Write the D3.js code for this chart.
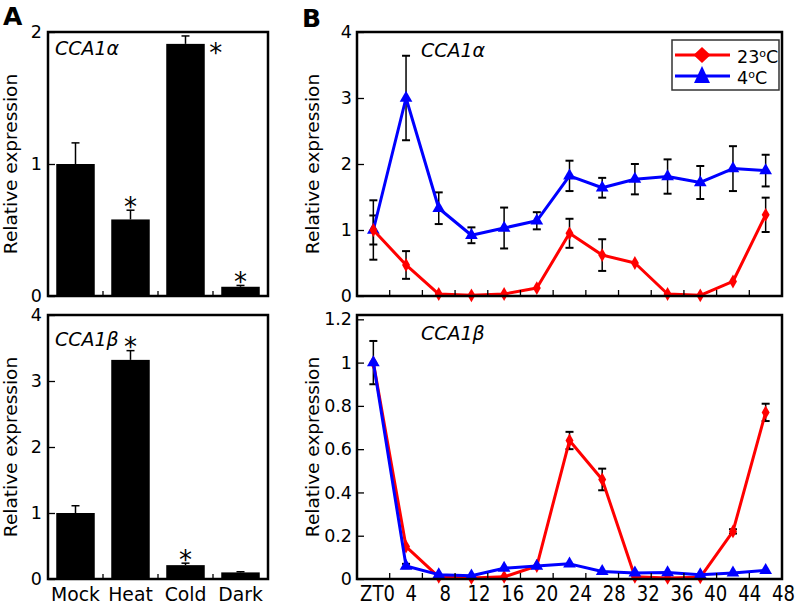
<!DOCTYPE html>
<html><head><meta charset="utf-8">
<script src="https://cdn.jsdelivr.net/npm/d3@7"></script>
<style>
body{margin:0;background:#fff}
text{font-family:"DejaVu Sans",Verdana,sans-serif;fill:#000}
</style>
</head><body>
<svg id="c" width="797" height="607"></svg>
<script>
// ---------- data ----------
const treatments = ["Mock", "Heat", "Cold", "Dark"];
const alphaTreat = [1.0, 0.58, 1.91, 0.07];
const alphaTreatErr = [0.16, 0.07, 0.06, 0.01];
const alphaTreatSig = [false, true, true, true];
const betaTreat = [1.0, 3.32, 0.21, 0.10];
const betaTreatErr = [0.11, 0.14, 0.03, 0.01];
const betaTreatSig = [false, true, true, false];
const alphaTreatTicks = [0, 1, 2];
const betaTreatTicks = [0, 1, 2, 3, 4];

const timeLabels = ["ZT0", "4", "8", "12", "16", "20", "24", "28", "32", "36", "40", "44", "48"];
const alpha23 = [1.0, 0.47, 0.03, 0.01, 0.03, 0.12, 0.95, 0.62, 0.50, 0.03, 0.01, 0.22, 1.23];
const alpha23Err = [0.22, 0.21, 0, 0, 0, 0, 0.22, 0.24, 0, 0, 0, 0, 0.26];
const alpha4 = [1.0, 3.0, 1.33, 0.92, 1.03, 1.14, 1.82, 1.64, 1.77, 1.81, 1.72, 1.93, 1.90];
const alpha4Err = [0.45, 0.64, 0.24, 0.12, 0.31, 0.13, 0.23, 0.15, 0.23, 0.26, 0.25, 0.34, 0.24];
const beta23 = [1.0, 0.15, 0.01, 0.005, 0.01, 0.06, 0.64, 0.46, 0.01, 0.005, 0.008, 0.22, 0.77];
const beta23Err = [0, 0, 0, 0, 0, 0, 0.04, 0.05, 0, 0, 0, 0.01, 0.04];
const beta4 = [1.0, 0.06, 0.02, 0.015, 0.05, 0.06, 0.07, 0.035, 0.028, 0.03, 0.02, 0.028, 0.04];
const beta4Err = [0.1, 0.01, 0, 0, 0, 0, 0, 0, 0, 0, 0, 0, 0];
const alphaTimeTicks = [0, 1, 2, 3, 4];
const betaTimeTicks = [0, 0.2, 0.4, 0.6, 0.8, 1, 1.2];
const alphaTimeMax = 4;
const betaTimeMax = 1.22;
const seriesNames = ["23", "4"];

// ---------- layout ----------
const svg = d3.select("#c");
const A = {x0: 48, x1: 268};
const B = {x0: 357, x1: 782};
const rowTop = {y0: 32, y1: 296};
const rowBot = {y0: 315, y1: 579};
const RED = "#ff0000", BLUE = "#0000ff";

function frame(px, row) {
  svg.append("rect").attr("x", px.x0).attr("y", row.y0)
    .attr("width", px.x1 - px.x0).attr("height", row.y1 - row.y0)
    .attr("fill", "none").attr("stroke", "#000").attr("stroke-width", 2.5);
}

function yAxis(y, px, ticks, pad) {
  const g = svg.append("g").attr("transform", `translate(${px.x0},0)`)
    .call(d3.axisLeft(y).tickValues(ticks).tickSize(-7).tickPadding(pad).tickFormat(d => String(d)));
  g.select(".domain").remove();
  g.selectAll(".tick line").attr("stroke", "#000").attr("stroke-width", 1.3);
  g.selectAll(".tick text").attr("font-size", 17.5).attr("font-family", "DejaVu Sans");
}

function yTitle(x, row) {
  svg.append("text").attr("transform", `translate(${x},${(row.y0 + row.y1) / 2}) rotate(-90)`)
    .attr("text-anchor", "middle").attr("font-size", 18.5).text("Relative expression");
}

function geneLabel(x, y, greek) {
  svg.append("text").attr("x", x).attr("y", y).attr("font-size", 19)
    .attr("font-style", "italic").text("CCA1" + greek);
}

// ---------- Panel A ----------
function barPanel(row, vals, errs, sig, max, ticks, showLabels) {
  const x = d3.scaleBand().domain(treatments).range([A.x0, A.x1]).paddingInner(0.3).paddingOuter(0.15);
  const y = d3.scaleLinear().domain([0, max]).range([row.y1, row.y0]);
  const data = treatments.map((t, i) => ({t, v: vals[i], e: errs[i], s: sig[i]}));
  svg.append("g").selectAll("rect").data(data).join("rect")
    .attr("x", d => x(d.t)).attr("width", x.bandwidth())
    .attr("y", d => y(d.v)).attr("height", d => y(0) - y(d.v)).attr("fill", "#000");
  const eb = svg.append("g").attr("stroke", "#000").attr("stroke-width", 1.5);
  data.forEach(d => {
    const cx = x(d.t) + x.bandwidth() / 2;
    eb.append("line").attr("x1", cx).attr("x2", cx).attr("y1", y(d.v)).attr("y2", y(d.v + d.e));
    eb.append("line").attr("x1", cx - 4).attr("x2", cx + 4).attr("y1", y(d.v + d.e)).attr("y2", y(d.v + d.e));
  });
  // boundary ticks
  const tk = svg.append("g").attr("stroke", "#000").attr("stroke-width", 1.3);
  for (let i = 1; i < treatments.length; i++) {
    const bx = (x(treatments[i - 1]) + x.bandwidth() + x(treatments[i])) / 2;
    tk.append("line").attr("x1", bx).attr("x2", bx).attr("y1", row.y1).attr("y2", row.y1 - 5);
  }
  // asterisks
  data.filter(d => d.s).forEach(d => {
    const cx = x(d.t) + x.bandwidth() / 2;
    let ax = cx, ay = y(d.v + d.e) - 9;
    if (ay < row.y0 + 14) { ax = x(d.t) + x.bandwidth() + 11; ay = y(d.v) + 4; }
    svg.append("text").attr("x", ax).attr("y", ay + 14.5).attr("text-anchor", "middle")
      .attr("font-size", 26).text("*");
  });
  frame(A, row);
  yAxis(y, A, ticks, 6);
  if (showLabels) {
    const g = svg.append("g").attr("transform", `translate(0,${row.y1})`)
      .call(d3.axisBottom(x).tickSize(0).tickPadding(0));
    g.select(".domain").remove();
    g.selectAll(".tick text").attr("y", 22).attr("dy", 0).attr("font-size", 20)
      .attr("transform", "scale(0.94,1)");
  }
}

barPanel(rowTop, alphaTreat, alphaTreatErr, alphaTreatSig, 2, alphaTreatTicks, false);
barPanel(rowBot, betaTreat, betaTreatErr, betaTreatSig, 4, betaTreatTicks, true);
yTitle(17, rowTop);
yTitle(17, rowBot);
geneLabel(55, 55, "α");
geneLabel(55, 346, "β");

// ---------- Panel B ----------
const xB = d3.scaleBand().domain(timeLabels).range([B.x0, B.x1]).padding(0);
const cxB = t => xB(t) + xB.bandwidth() / 2;

function linePanel(row, s23, e23, s4, e4, max, ticks, redOnTop, showLabels) {
  const y = d3.scaleLinear().domain([0, max]).range([row.y1, row.y0]);
  const series = [
    {name: "23", vals: s23, errs: e23, color: RED, sym: d3.symbolDiamond, size: 55},
    {name: "4", vals: s4, errs: e4, color: BLUE, sym: d3.symbolTriangle, size: 70}
  ];
  const order = redOnTop ? [series[1], series[0]] : [series[0], series[1]];
  // error bars
  const eb = svg.append("g").attr("stroke", "#000").attr("stroke-width", 1.5);
  series.forEach(s => {
    timeLabels.forEach((t, i) => {
      if (!s.errs[i]) return;
      const cx = cxB(t), hi = y(s.vals[i] + s.errs[i]), lo = y(Math.max(0, s.vals[i] - s.errs[i]));
      eb.append("line").attr("x1", cx).attr("x2", cx).attr("y1", lo).attr("y2", hi);
      eb.append("line").attr("x1", cx - 4).attr("x2", cx + 4).attr("y1", hi).attr("y2", hi).attr("stroke-width", 2);
      eb.append("line").attr("x1", cx - 4).attr("x2", cx + 4).attr("y1", lo).attr("y2", lo).attr("stroke-width", 2);
    });
  });
  const line = d3.line().x((d, i) => cxB(timeLabels[i])).y(d => y(d));
  order.forEach(s => {
    svg.append("path").datum(s.vals).attr("d", line).attr("fill", "none")
      .attr("stroke", s.color).attr("stroke-width", 3).attr("stroke-linejoin", "round");
    svg.append("g").selectAll("path").data(s.vals).join("path")
      .attr("transform", (d, i) => `translate(${cxB(timeLabels[i])},${y(d)})`)
      .attr("d", d3.symbol().type(s.sym).size(s.size)).attr("fill", s.color);
  });
  // boundary ticks
  const tk = svg.append("g").attr("stroke", "#000").attr("stroke-width", 1.3);
  for (let i = 1; i < timeLabels.length; i++) {
    const bx = xB(timeLabels[i]);
    tk.append("line").attr("x1", bx).attr("x2", bx).attr("y1", row.y1).attr("y2", row.y1 - 6);
  }
  frame(B, row);
  yAxis(y, B, ticks, 5);
  if (showLabels) {
    const xl = d3.scalePoint().domain(timeLabels).range([B.x0 + 20, B.x1 + 1]);
    const g = svg.append("g").attr("transform", `translate(0,${row.y1})`)
      .call(d3.axisBottom(xl).tickSize(0).tickPadding(0));
    g.select(".domain").remove();
    g.selectAll(".tick text").attr("y", 22).attr("dy", 0).attr("font-size", 22)
      .attr("transform", "scale(0.82,1)");
  }
}

linePanel(rowTop, alpha23, alpha23Err, alpha4, alpha4Err, alphaTimeMax, alphaTimeTicks, true, false);
linePanel(rowBot, beta23, beta23Err, beta4, beta4Err, betaTimeMax, betaTimeTicks, false, true);
yTitle(319, rowTop);
yTitle(319, rowBot);
geneLabel(421, 57, "α");
geneLabel(421, 340, "β");

// ---------- legend ----------
const lg = svg.append("g");
lg.append("rect").attr("x", 672).attr("y", 40).attr("width", 107).attr("height", 50)
  .attr("fill", "#fff").attr("stroke", "#333").attr("stroke-width", 1.5);
const legendRows = [
  {name: seriesNames[0], color: RED, ly: 55, kind: "diamond"},
  {name: seriesNames[1], color: BLUE, ly: 76, kind: "triangle"}
];
legendRows.forEach(r => {
  lg.append("line").attr("x1", 675).attr("x2", 730).attr("y1", r.ly).attr("y2", r.ly)
    .attr("stroke", r.color).attr("stroke-width", 3);
  const mx = 702;
  const pts = r.kind === "diamond"
    ? [[mx, r.ly - 8], [mx + 8.5, r.ly], [mx, r.ly + 8], [mx - 8.5, r.ly]]
    : [[mx, r.ly - 10], [mx + 8, r.ly + 7], [mx - 8, r.ly + 7]];
  lg.append("polygon").attr("points", pts.map(p => p.join(",")).join(" ")).attr("fill", r.color);
  const t = lg.append("text").attr("x", 737).attr("y", r.ly + 8).attr("font-size", 17.5);
  t.append("tspan").text(r.name);
  t.append("tspan").attr("font-size", 11).attr("dy", -6).text("o");
  t.append("tspan").attr("dy", 6).text("C");
});

// ---------- panel letters ----------
svg.append("text").attr("x", 3).attr("y", 25).attr("font-size", 25).attr("font-weight", "bold").text("A");
svg.append("text").attr("x", 302).attr("y", 27).attr("font-size", 25).attr("font-weight", "bold").text("B");
</script>
</body></html>
